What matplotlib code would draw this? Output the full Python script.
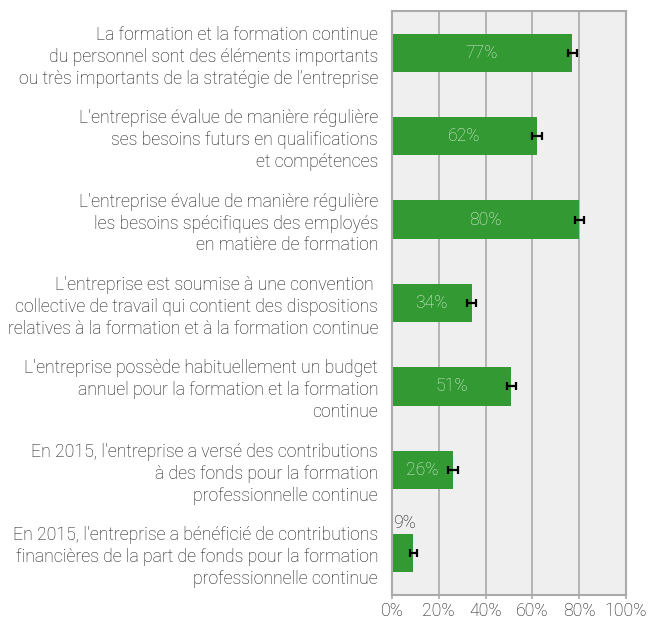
import matplotlib
matplotlib.use("Agg")
from matplotlib import pyplot as plt
from matplotlib.ticker import PercentFormatter

plt.rcParams['font.family'] = ['Roboto', 'DejaVu Sans']
plt.rcParams['font.weight'] = 'light'

labels = [
    "La formation et la formation continue\ndu personnel sont des éléments importants\nou très importants de la stratégie de l’entreprise",
    "L'entreprise évalue de manière régulière\nses besoins futurs en qualifications\net compétences",
    "L'entreprise évalue de manière régulière\nles besoins spécifiques des employés\nen matière de formation",
    "L'entreprise est soumise à une convention \ncollective de travail qui contient des dispositions\nrelatives à la formation et à la formation continue",
    "L'entreprise possède habituellement un budget\nannuel pour la formation et la formation\ncontinue",
    "En 2015, l'entreprise a versé des contributions\nà des fonds pour la formation\nprofessionnelle continue",
    "En 2015, l'entreprise a bénéficié de contributions\nfinancières de la part de fonds pour la formation\nprofessionnelle continue",
]
values = [77, 62, 80, 34, 51, 26, 9]
errors = [2, 2, 2, 2, 2, 2, 1.5]

green = '#339933'
text_col = '#141414'
fs = 12.7

fig = plt.figure(figsize=(6.52, 6.22), dpi=100)
ax = fig.add_axes([392 / 652, 1 - 595 / 622, 234 / 652, 584 / 622])
ax.set_facecolor('#efefef')

pos = list(range(len(values)))
ax.barh(pos, values, height=0.46, color=green, zorder=2)
ax.errorbar(values, pos, xerr=errors, fmt='none', ecolor='black',
            elinewidth=1.6, capsize=3, capthick=1.6, zorder=3)

for p, v in zip(pos, values):
    if v >= 15:
        ax.text(v / 2, p, f"{v}%", ha='center', va='center', fontsize=fs,
                color='#dcecdc', zorder=4)
    else:
        ax.text(0.3, p - 0.25, f"{v}%", ha='left', va='bottom', fontsize=fs,
                color=text_col, zorder=4)

ax.set_xlim(0, 100)
ax.set_ylim(len(values) - 0.5, -0.5)
ax.xaxis.set_major_formatter(PercentFormatter(decimals=0))
ax.set_xticks(range(0, 101, 20))
ax.grid(axis='x', color='#aaaaaa', linewidth=1.2, zorder=1)
ax.set_yticks(pos)
ax.set_yticklabels(labels, fontsize=fs, color=text_col, linespacing=1.28)
ax.tick_params(axis='y', length=0, pad=10)
ax.tick_params(axis='x', colors='#aaaaaa', labelcolor=text_col, labelsize=fs,
               length=3, width=1.2, pad=2)
for s in ax.spines.values():
    s.set_color('#aaaaaa')
    s.set_linewidth(1.5)

fig.savefig('out.png', dpi=100)
